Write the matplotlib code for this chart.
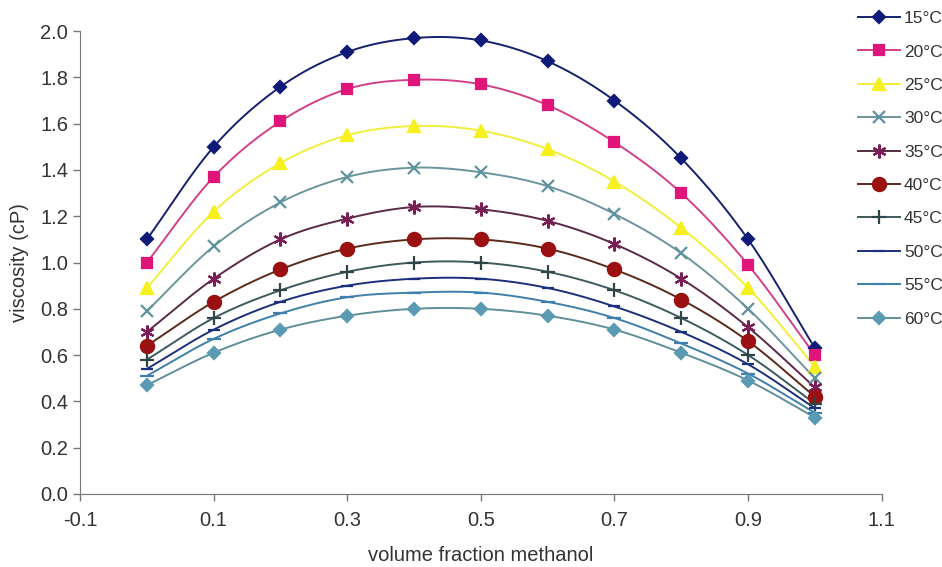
import matplotlib
matplotlib.use("Agg")
import matplotlib.pyplot as plt
import numpy as np

plt.rcParams['font.family'] = ['Liberation Sans', 'DejaVu Sans']

# volume fraction of methanol
frac = [0.0, 0.1, 0.2, 0.3, 0.4, 0.5, 0.6, 0.7, 0.8, 0.9, 1.0]

# viscosity (cP), one list per temperature
v15 = [1.10, 1.50, 1.76, 1.91, 1.97, 1.96, 1.87, 1.70, 1.45, 1.10, 0.63]
v20 = [1.00, 1.37, 1.61, 1.75, 1.79, 1.77, 1.68, 1.52, 1.30, 0.99, 0.60]
v25 = [0.89, 1.22, 1.43, 1.55, 1.59, 1.57, 1.49, 1.35, 1.15, 0.89, 0.55]
v30 = [0.79, 1.07, 1.26, 1.37, 1.41, 1.39, 1.33, 1.21, 1.04, 0.80, 0.50]
v35 = [0.70, 0.93, 1.10, 1.19, 1.24, 1.23, 1.18, 1.08, 0.93, 0.72, 0.46]
v40 = [0.64, 0.83, 0.97, 1.06, 1.10, 1.10, 1.06, 0.97, 0.84, 0.66, 0.42]
v45 = [0.58, 0.76, 0.88, 0.96, 1.00, 1.00, 0.96, 0.88, 0.76, 0.60, 0.39]
v50 = [0.54, 0.71, 0.83, 0.90, 0.93, 0.93, 0.89, 0.81, 0.70, 0.56, 0.37]
v55 = [0.51, 0.67, 0.78, 0.85, 0.87, 0.87, 0.83, 0.76, 0.65, 0.52, 0.35]
v60 = [0.47, 0.61, 0.71, 0.77, 0.80, 0.80, 0.77, 0.71, 0.61, 0.49, 0.33]

labels = ["15°C", "20°C", "25°C", "30°C", "35°C", "40°C", "45°C", "50°C", "55°C", "60°C"]
series = [v15, v20, v25, v30, v35, v40, v45, v50, v55, v60]

# style per series: (line colour, marker colour, marker, size)
styles = [
    ("#16206e", "#101a78", "D", 6.5),
    ("#d2408a", "#e0157a", "s", 7.5),
    ("#f2ee3a", "#f7f020", "^", 8.5),
    ("#6a959c", "#5f93a0", "x", 8.5),
    ("#5a2a48", "#7a1f55", (6, 2, 0), 10),
    ("#5a2a1a", "#9b1010", "o", 9.5),
    ("#3d5a5e", "#2f4548", "+", 10),
    ("#1c2f7a", "#1a3080", "_", 8),
    ("#3f7fa8", "#3f7fb0", "_", 10),
    ("#5f8f98", "#5a9ab2", "D", 6.5),
]


def smooth(x, y, n=20):
    # Catmull-Rom style curve through the points, like Excel's smoothed lines
    x = np.asarray(x, float)
    y = np.asarray(y, float)
    px = np.concatenate([[2 * x[0] - x[1]], x, [2 * x[-1] - x[-2]]])
    py = np.concatenate([[2 * y[0] - y[1]], y, [2 * y[-1] - y[-2]]])
    xs, ys = [], []
    t = np.linspace(0, 1, n, endpoint=False)
    for i in range(1, len(px) - 2):
        for arr, out in ((px, xs), (py, ys)):
            p0, p1, p2, p3 = arr[i - 1], arr[i], arr[i + 1], arr[i + 2]
            out.extend(0.5 * (2 * p1 + (-p0 + p2) * t
                              + (2 * p0 - 5 * p1 + 4 * p2 - p3) * t ** 2
                              + (-p0 + 3 * p1 - 3 * p2 + p3) * t ** 3))
    xs.append(x[-1])
    ys.append(y[-1])
    return xs, ys


fig = plt.figure(figsize=(9.42, 5.67), dpi=100)
ax = fig.add_axes([0.085, 0.129, 0.851, 0.816])

handles = []
for vals, lab, (lc, mc, mk, ms) in zip(series, labels, styles):
    sx, sy = smooth(frac, vals)
    ax.plot(sx, sy, color=lc, lw=1.4, zorder=2)
    ax.plot(frac, vals, ls="none", marker=mk, ms=ms, color=mc,
            mec=mc, mew=1.6, zorder=3)
    h, = ax.plot([], [], color=lc, lw=1.4, marker=mk, ms=ms, mfc=mc, mec=mc,
                 mew=1.6, label=lab)
    handles.append(h)

ax.set_xlim(-0.1, 1.1)
ax.set_ylim(0, 2.0)
ax.set_xticks([-0.1, 0.1, 0.3, 0.5, 0.7, 0.9, 1.1])
ax.set_xticklabels(["-0.1", "0.1", "0.3", "0.5", "0.7", "0.9", "1.1"])
ax.set_yticks(np.arange(0, 2.01, 0.2))
ax.yaxis.set_major_formatter(matplotlib.ticker.FormatStrFormatter("%.1f"))
ax.tick_params(labelsize=14.5, colors="#333333", length=5, width=1, color="#777777")
ax.tick_params(axis="x", pad=7)
for s in ("top", "right"):
    ax.spines[s].set_visible(False)
for s in ("left", "bottom"):
    ax.spines[s].set_color("#777777")
ax.set_xlabel("volume fraction methanol", fontsize=14.5, color="#333333", labelpad=12)
ax.set_ylabel("viscosity (cP)", fontsize=14.5, color="#333333", labelpad=8)

# legend to the right, handles starting near x=858 px
fig.legend(handles=handles, loc="upper left",
           bbox_to_anchor=(858 / 942, 1 - 11 / 567),
           frameon=False, fontsize=12.5, handlelength=2.4, handletextpad=0.25,
           labelspacing=1.05, borderaxespad=0.0, borderpad=0.0,
           labelcolor="#333333")

fig.savefig("out.png", dpi=100)
